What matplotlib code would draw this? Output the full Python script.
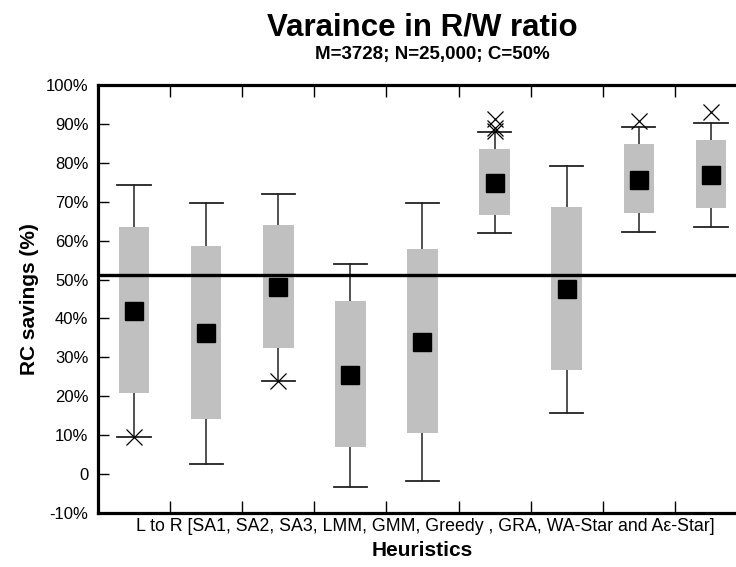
import matplotlib
matplotlib.use("Agg")
import matplotlib.pyplot as plt
from matplotlib.ticker import FixedLocator, NullFormatter

plt.rcParams['font.family'] = ['Liberation Sans', 'DejaVu Sans']

# ---- data ----
categories = ["SA1", "SA2", "SA3", "LMM", "GMM", "Greedy", "GRA", "WA-Star", "A\u03b5-Star"]
whisker_low = [9.6, 2.5, 23.9, -3.3, -1.7, 61.9, 15.8, 62.3, 63.4]
q1 = [20.9, 14.2, 32.5, 6.9, 10.6, 66.7, 26.8, 67.2, 68.3]
mean = [41.9, 36.2, 48.0, 25.4, 33.9, 74.8, 47.5, 75.5, 76.8]
q3 = [63.5, 58.6, 64.0, 44.5, 57.8, 83.5, 68.6, 84.8, 85.8]
whisker_high = [74.4, 69.8, 72.1, 54.1, 69.8, 87.8, 79.3, 89.1, 90.3]
extremes = {"SA1": [9.6], "SA3": [23.9], "Greedy": [88.3, 89.0, 91.3],
            "WA-Star": [90.7], "A\u03b5-Star": [93.0]}
reference_line = 51.2
ytick_values = [-10, 0, 10, 20, 30, 40, 50, 60, 70, 80, 90, 100]
ytick_labels = ["-10%", "0", "10%", "20%", "30%", "40%", "50%", "60%", "70%", "80%", "90%", "100%"]

fig = plt.figure(figsize=(7.36, 5.67), dpi=100)
ax = fig.add_axes([98 / 736, 54 / 567, 649 / 736, 428 / 567])

pos = list(range(1, len(categories) + 1))
box_w = 0.425
cap_w = 0.46

for i, c in enumerate(categories):
    x = pos[i]
    ax.plot([x, x], [whisker_low[i], whisker_high[i]], color='#222222', lw=1.1, zorder=1)
    ax.plot([x - cap_w / 2, x + cap_w / 2], [whisker_low[i]] * 2, color='#222222', lw=1.3, zorder=1)
    ax.plot([x - cap_w / 2, x + cap_w / 2], [whisker_high[i]] * 2, color='#222222', lw=1.3, zorder=1)

ax.bar(pos, [h - l for h, l in zip(q3, q1)], bottom=q1, width=box_w,
       color='#C0C0C0', edgecolor='none', zorder=2)
ax.plot(pos, mean, linestyle='none', marker='s', markersize=12.5, color='black', zorder=4)

for c, vals in extremes.items():
    x = pos[categories.index(c)]
    ax.plot([x] * len(vals), vals, linestyle='none', marker='x', markersize=11.5,
            markeredgewidth=0.9, color='black', zorder=5)

ax.axhline(reference_line, color='black', lw=2.4, zorder=3)

ax.set_xlim(0.5, len(categories) + 0.5)
ax.set_ylim(-10, 100)
ax.set_yticks(ytick_values)
ax.set_yticklabels(ytick_labels, fontsize=12)
ax.xaxis.set_major_locator(FixedLocator([p + 0.5 for p in pos[:-1]]))
ax.xaxis.set_major_formatter(NullFormatter())
ax.tick_params(axis='y', direction='in', length=8, width=1.0, left=True, right=True, pad=7)
ax.tick_params(axis='x', direction='in', length=8.5, width=1.0, top=True, bottom=True)
for s in ax.spines.values():
    s.set_linewidth(2.3)

ax.text(0.505, -0.012, "L to R [SA1, SA2, SA3, LMM, GMM, Greedy , GRA, WA-Star and A\u03b5-Star]",
        transform=ax.transAxes, ha='center', va='top', fontsize=12.8)
ax.set_xlabel("Heuristics", fontsize=15, fontweight='bold', labelpad=17)
ax.set_ylabel("RC savings (%)", fontsize=15, fontweight='bold', labelpad=5)

fig.text(422 / 736, 1 - 28 / 567, "Varaince in R/W ratio", ha='center', va='center',
         fontsize=22.5, fontweight='bold')
fig.text(432 / 736, 1 - 54 / 567, "M=3728; N=25,000; C=50%", ha='center', va='center',
         fontsize=13.5, fontweight='bold')

fig.savefig("out.png", dpi=100)
